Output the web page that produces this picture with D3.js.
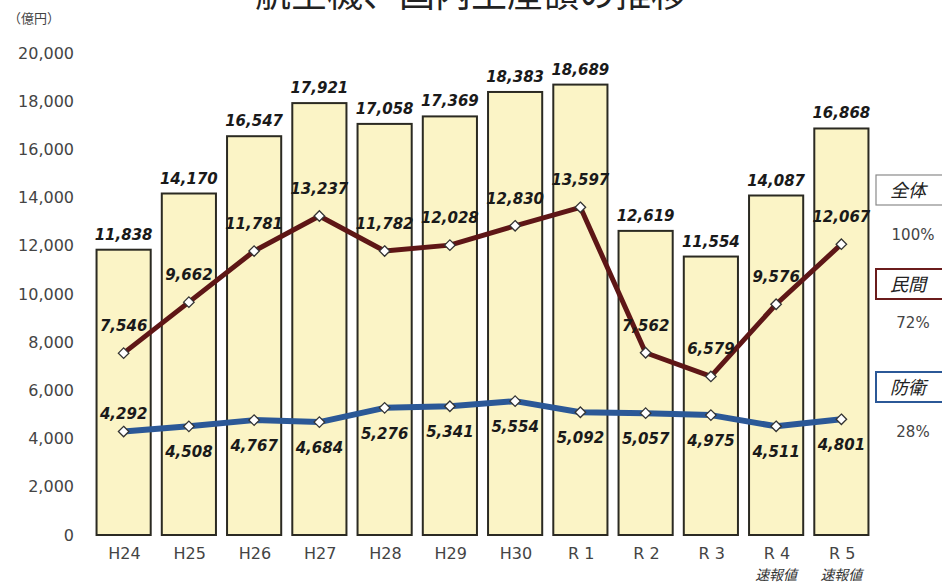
<!DOCTYPE html>
<html>
<head>
<meta charset="utf-8">
<script src="https://cdn.jsdelivr.net/npm/d3@7"></script>
<style>
  body { margin: 0; background: #fff; }
  svg { display: block; }
  .tick text { font-family: "DejaVu Sans", Verdana, sans-serif; fill: #444; }
  .val { font-family: "DejaVu Sans", Verdana, sans-serif; font-weight: bold; font-style: italic; font-size: 15px; fill: #1a1a1a; }
  .jp { font-family: "Noto Sans CJK JP", sans-serif; }
</style>
</head>
<body>
<div id="chart"></div>
<script>
// 年度
const years = ["H24", "H25", "H26", "H27", "H28", "H29", "H30", "R 1", "R 2", "R 3", "R 4", "R 5"];
const notes = ["", "", "", "", "", "", "", "", "", "", "速報値", "速報値"];
// 億円
const total = [11838, 14170, 16547, 17921, 17058, 17369, 18383, 18689, 12619, 11554, 14087, 16868];
const civil = [7546, 9662, 11781, 13237, 11782, 12028, 12830, 13597, 7562, 6579, 9576, 12067];
const defense = [4292, 4508, 4767, 4684, 5276, 5341, 5554, 5092, 5057, 4975, 4511, 4801];
const yTicks = [0, 2000, 4000, 6000, 8000, 10000, 12000, 14000, 16000, 18000, 20000];
const legendItems = ["全体", "民間", "防衛"];
const legendShares = ["100%", "72%", "28%"];

const width = 942, height = 584;
const fmt = d3.format(",");

const svg = d3.select("#chart").append("svg")
    .attr("width", width)
    .attr("height", height);

const x = d3.scaleBand()
    .domain(years)
    .range([91, 874])
    .paddingInner(0.17)
    .paddingOuter(0.085);

const y = d3.scaleLinear()
    .domain([0, 20000])
    .range([535, 53]);

const cx = i => x(years[i]) + x.bandwidth() / 2;

// title (cut off at the top in the original)
svg.append("text")
    .attr("class", "jp")
    .attr("x", 471)
    .attr("y", 7)
    .attr("text-anchor", "middle")
    .style("font-size", "36px")
    .style("fill", "#222")
    .text("航空機、国内生産額の推移");

svg.append("text")
    .attr("class", "jp")
    .attr("x", 8)
    .attr("y", 23)
    .style("font-size", "13px")
    .style("fill", "#444")
    .text("（億円）");

// y axis
let yAxis = svg.append("g")
    .attr("transform", "translate(77,0)")
    .call(d3.axisLeft(y).tickValues(yTicks).tickFormat(fmt).tickSize(0).tickPadding(3));
yAxis.select(".domain").remove();
yAxis.selectAll("text").style("font-size", "16px");

// x axis
let xAxis = svg.append("g")
    .attr("transform", "translate(0,535)")
    .call(d3.axisBottom(x).tickSize(0).tickPadding(13));
xAxis.select(".domain").remove();
xAxis.selectAll("text").style("font-size", "16px").attr("dx", "0.05em");

svg.append("g").selectAll("text")
    .data(notes)
    .enter().append("text")
    .attr("class", "jp")
    .attr("x", (d, i) => cx(i))
    .attr("y", 580)
    .attr("text-anchor", "middle")
    .style("font-size", "14px")
    .style("font-style", "italic")
    .style("fill", "#333")
    .text(d => d);

// bars
svg.append("g").selectAll("rect")
    .data(total)
    .enter().append("rect")
    .attr("x", (d, i) => x(years[i]))
    .attr("y", d => y(d))
    .attr("width", x.bandwidth())
    .attr("height", d => y(0) - y(d))
    .attr("fill", "#fbf4c6")
    .attr("stroke", "#2b2a22")
    .attr("stroke-width", 2);

svg.append("g").selectAll("text")
    .data(total)
    .enter().append("text")
    .attr("class", "val")
    .attr("x", (d, i) => cx(i))
    .attr("y", d => y(d) - 10)
    .attr("text-anchor", "middle")
    .text(fmt);

// lines
let line = d3.line()
    .x((d, i) => cx(i))
    .y(d => y(d));

let diamond = d3.symbol().type(d3.symbolDiamond2).size(70);

function drawSeries(values, color, lineWidth, labelY) {
    let g = svg.append("g");

    g.append("path")
        .datum(values)
        .attr("d", line)
        .attr("fill", "none")
        .attr("stroke", color)
        .attr("stroke-width", lineWidth)
        .attr("stroke-linejoin", "round");

    g.selectAll(".marker")
        .data(values)
        .enter().append("path")
        .attr("class", "marker")
        .attr("transform", (d, i) => `translate(${cx(i)},${y(d)})`)
        .attr("d", diamond)
        .attr("fill", "#fff")
        .attr("stroke", "#333")
        .attr("stroke-width", 1.3);

    g.selectAll(".val")
        .data(values)
        .enter().append("text")
        .attr("class", "val")
        .attr("x", (d, i) => cx(i))
        .attr("y", (d, i) => labelY(d, i))
        .attr("text-anchor", "middle")
        .text(fmt);
}

drawSeries(civil, "#5e1616", 5, d => y(d) - 22);
// 防衛: first label above, rest below the point
drawSeries(defense, "#2b5897", 6, (d, i) => i === 0 ? y(d) - 13 : y(d) + 31);

// legend boxes
let legendColors = ["#8a8a8a", "#6b1c1c", "#2b5897"];
let legendTop = [175, 269, 372];
let shareY = [240, 328, 437];

let lg = svg.append("g");
legendItems.forEach(function(item, i) {
    lg.append("rect")
        .attr("x", 876)
        .attr("y", legendTop[i])
        .attr("width", 80)
        .attr("height", 30)
        .attr("fill", "#fff")
        .attr("stroke", legendColors[i])
        .attr("stroke-width", i === 0 ? 1.2 : 2);

    lg.append("text")
        .attr("class", "jp")
        .attr("x", 908)
        .attr("y", legendTop[i] + 22)
        .attr("text-anchor", "middle")
        .style("font-size", "18px")
        .style("font-style", "italic")
        .style("fill", "#222")
        .text(item);

    lg.append("text")
        .attr("x", 913)
        .attr("y", shareY[i])
        .attr("text-anchor", "middle")
        .style("font-family", "DejaVu Sans, Verdana, sans-serif")
        .style("font-size", "15px")
        .style("fill", "#444")
        .text(legendShares[i]);
});
</script>
</body>
</html>
